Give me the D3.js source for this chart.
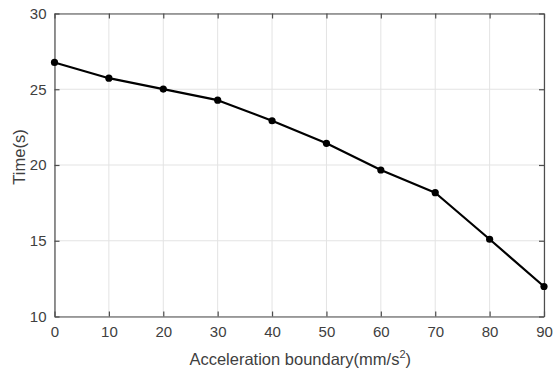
<!DOCTYPE html>
<html>
<head>
<meta charset="utf-8">
<script src="https://cdn.jsdelivr.net/npm/d3@7"></script>
<style>
html,body{margin:0;padding:0;background:#fff;}
svg{display:block;}
text{font-family:"Liberation Sans", Arial, Helvetica, sans-serif;}
</style>
</head>
<body>
<svg id="chart" width="553" height="373"></svg>
<script>
const xValues = [0, 10, 20, 30, 40, 50, 60, 70, 80, 90];
const timeValues = [26.77, 25.73, 25.01, 24.28, 22.92, 21.43, 19.67, 18.17, 15.10, 11.98];
const xTicks = [0, 10, 20, 30, 40, 50, 60, 70, 80, 90];
const yTicks = [10, 15, 20, 25, 30];
const xLabel = "Acceleration boundary(mm/s";
const yLabel = "Time(s)";

const svg = d3.select("#chart");
const mLeft = 54.5, mRight = 544, mTop = 13.5, mBottom = 316.5;
const x = d3.scaleLinear().domain([0, 90]).range([mLeft, mRight]);
const y = d3.scaleLinear().domain([10, 30]).range([mBottom, mTop]);

const axisColor = "#4d4d4d";
const textColor = "#404040";

// grid
svg.append("g").selectAll("line").data(xTicks).join("line")
  .attr("x1", d => x(d)).attr("x2", d => x(d)).attr("y1", mTop).attr("y2", mBottom)
  .attr("stroke", "#e3e3e3").attr("stroke-width", 1);
svg.append("g").selectAll("line").data(yTicks).join("line")
  .attr("x1", mLeft).attr("x2", mRight).attr("y1", d => y(d)).attr("y2", d => y(d))
  .attr("stroke", "#e3e3e3").attr("stroke-width", 1);

// axes (ticks inward)
const tickLen = 5;
const xAxisB = d3.axisBottom(x).tickValues(xTicks).tickSize(-tickLen).tickSizeOuter(0).tickPadding(10).tickFormat(d3.format("d"));
const xAxisT = d3.axisTop(x).tickValues(xTicks).tickSize(-tickLen).tickSizeOuter(0).tickFormat("");
const yAxisL = d3.axisLeft(y).tickValues(yTicks).tickSize(-tickLen).tickSizeOuter(0).tickPadding(8).tickFormat(d3.format("d"));
const yAxisR = d3.axisRight(y).tickValues(yTicks).tickSize(-tickLen).tickSizeOuter(0).tickFormat("");

function style(g) {
  g.select(".domain").attr("stroke", axisColor).attr("stroke-width", 1.2);
  g.selectAll(".tick line").attr("stroke", axisColor).attr("stroke-width", 1.2);
  g.selectAll(".tick text").attr("fill", textColor).attr("font-size", 15)
   .attr("font-family", '"Liberation Sans", Arial, sans-serif');
}
svg.append("g").attr("transform", `translate(0,${mBottom})`).call(xAxisB).call(style);
svg.append("g").attr("transform", `translate(0,${mTop})`).call(xAxisT).call(style);
svg.append("g").attr("transform", `translate(${mLeft},0)`).call(yAxisL).call(style);
svg.append("g").attr("transform", `translate(${mRight},0)`).call(yAxisR).call(style);

// line
const line = d3.line().x((d, i) => x(xValues[i])).y(d => y(d));
svg.append("path").datum(timeValues).attr("d", line)
  .attr("fill", "none").attr("stroke", "#000").attr("stroke-width", 2.2).attr("stroke-linejoin", "round");
svg.append("g").selectAll("circle").data(timeValues).join("circle")
  .attr("cx", (d, i) => x(xValues[i])).attr("cy", d => y(d)).attr("r", 3.6).attr("fill", "#000");

// labels
const xl = svg.append("text").attr("x", (mLeft + mRight) / 2 + 1).attr("y", 365)
  .attr("text-anchor", "middle").attr("font-size", 16.5).attr("fill", textColor);
xl.append("tspan").text(xLabel);
xl.append("tspan").attr("dy", -7).attr("font-size", 11).text("2");
xl.append("tspan").attr("dy", 7).text(")");

svg.append("text").attr("transform", `translate(25,157) rotate(-90)`)
  .attr("text-anchor", "middle").attr("font-size", 16.5).attr("fill", textColor).text(yLabel);
</script>
</body>
</html>
